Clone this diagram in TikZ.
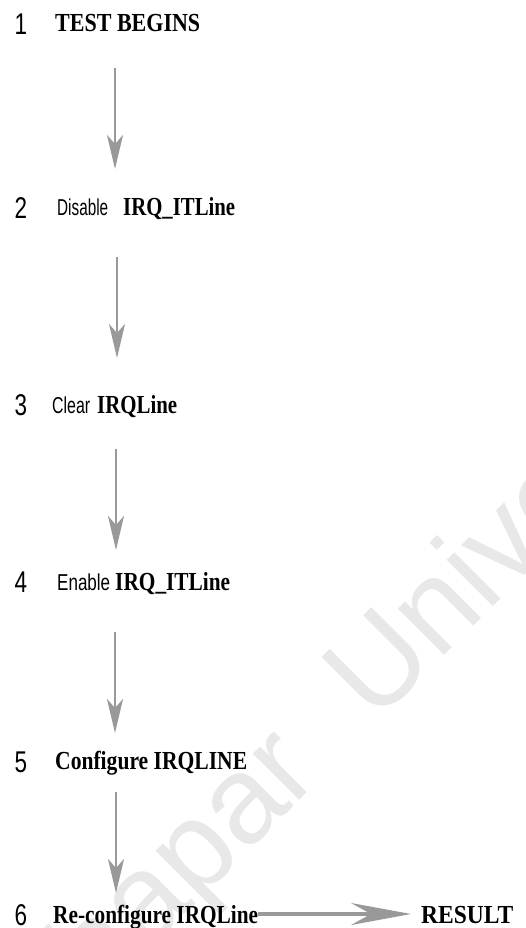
\documentclass[tikz,border=0pt]{standalone}
\usepackage{fontspec}
\setmainfont{Liberation Serif}
\newfontfamily\sansw{Liberation Sans}
\usetikzlibrary{arrows.meta}
\newcommand{\fitw}[2]{\resizebox{#1}{\height}{#2}}
\newcommand{\sw}[1]{{\sansw\fontsize{23}{23}\selectfont\mdseries #1}}
\newcommand{\bs}{\fontsize{26}{26}\selectfont\bfseries}
\begin{document}
\begin{tikzpicture}[x=1pt,y=1pt,
  num/.style={anchor=base,inner sep=0pt,font=\sansw\fontsize{30}{30}\selectfont},
  lbl/.style={anchor=base west,inner sep=0pt,text=black},
  wmark/.style={rotate=45,inner sep=0pt,text=black!9,font=\sansw\fontsize{124}{124}\selectfont},
  varr/.style={draw=black!40,line width=2.6pt,-{Stealth[length=34pt,width=16pt,inset=9pt]}},
  harr/.style={draw=black!40,line width=3.8pt,-{Stealth[length=60pt,width=22pt,inset=20pt]},shorten >=10pt}]
\useasboundingbox (0,0) rectangle (526,-928);
\begin{scope}
\clip (0,0) rectangle (526,-928);
\coordinate (wmU) at (375.5,-724.5);
\node[wmark,anchor=base east] (wm) at (wmU) {Thapar\kern74pt\null};
\node[wmark,anchor=base west] (wm2) at (wmU) {University};
\end{scope}
% numbers
\node[num] (n1) at (21,-35) {\scalebox{0.75}[1]{1}};
\node[num] (n2) at (21,-218) {\scalebox{0.75}[1]{2}};
\node[num] (n3) at (21,-415) {\scalebox{0.75}[1]{3}};
\node[num] (n4) at (21,-592) {\scalebox{0.75}[1]{4}};
\node[num] (n5) at (21,-772) {\scalebox{0.75}[1]{5}};
\node[num] (n6) at (21,-925) {\scalebox{0.75}[1]{6}};
% labels
\node[lbl] (t1) at (55,-32) {\fitw{145pt}{\bs TEST BEGINS}};
\node[lbl] (t2) at (57,-215) {\fitw{51pt}{\sw{Disable}}\hspace{15pt}\fitw{112pt}{\bs IRQ\_ITLine}};
\node[lbl] (t3) at (52,-413) {\fitw{38pt}{\sw{Clear}}\hspace{7pt}\fitw{80pt}{\bs IRQLine}};
\node[lbl] (t4) at (57,-590) {\fitw{53pt}{\sw{Enable}}\hspace{5pt}\fitw{115pt}{\bs IRQ\_ITLine}};
\node[lbl] (t5) at (55,-769) {\fitw{192pt}{\bs Configure IRQLINE}};
\node[lbl] (t6) at (53,-923) {\fitw{205pt}{\bs Re-configure IRQLine}};
\node[lbl] (res) at (421,-923) {\fitw{92pt}{\bs RESULT}};
% arrow end points
\coordinate (a1s) at (115,-68);  \coordinate (a1e) at (115,-169);
\coordinate (a2s) at (117,-257); \coordinate (a2e) at (117,-358);
\coordinate (a3s) at (116,-449); \coordinate (a3e) at (116,-550);
\coordinate (a4s) at (115,-632); \coordinate (a4e) at (115,-733);
\coordinate (a5s) at (116,-792); \coordinate (a5e) at (116,-893);
\draw[varr] (a1s) -- (a1e);
\draw[varr] (a2s) -- (a2e);
\draw[varr] (a3s) -- (a3e);
\draw[varr] (a4s) -- (a4e);
\draw[varr] (a5s) -- (a5e);
\draw[harr] (t6.east |- 0,-914) -- (res.west |- 0,-914);
\end{tikzpicture}
\end{document}
